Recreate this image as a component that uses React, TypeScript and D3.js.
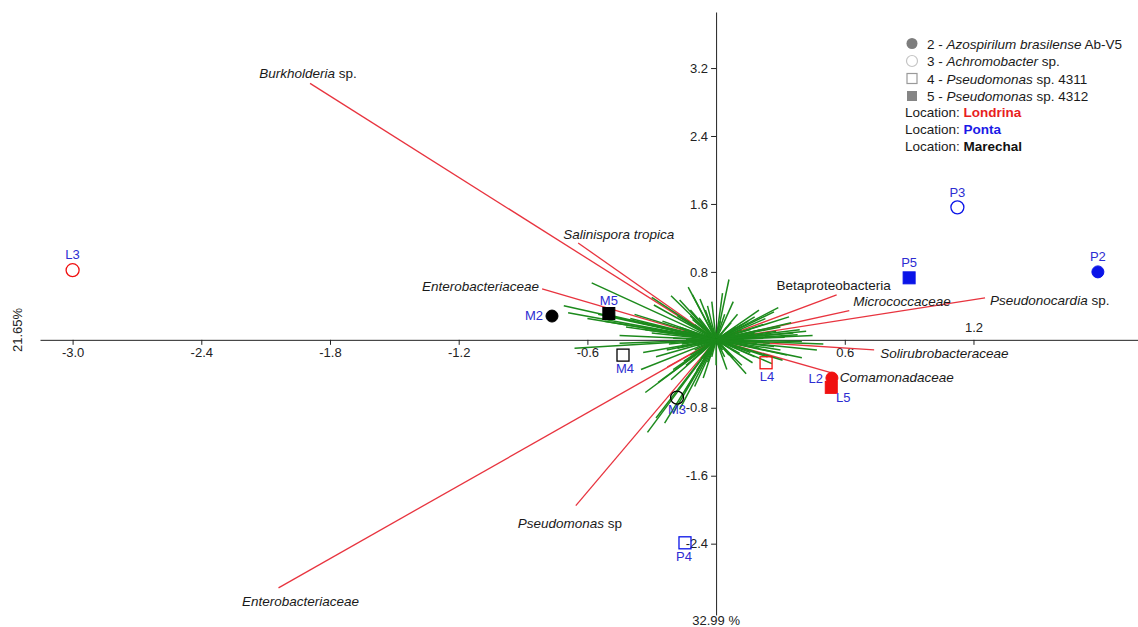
import React, { useEffect, useRef } from 'react';
import * as d3 from 'd3';

// sample scores (PC1, PC2)
const sampleNames = ['L2', 'L3', 'L4', 'L5', 'P2', 'P3', 'P4', 'P5', 'M2', 'M3', 'M4', 'M5'];
const sampleX = [0.54, -3.0, 0.233, 0.537, 1.78, 1.125, -0.145, 0.90, -0.765, -0.182, -0.434, -0.50];
const sampleY = [-0.45, 0.82, -0.27, -0.56, 0.80, 1.56, -2.39, 0.73, 0.28, -0.68, -0.18, 0.31];

// labelled loadings (red)
const loadingItalic = ['Burkholderia', 'Salinispora tropica', 'Enterobacteriaceae', '', 'Micrococcaceae',
  'Pseudonocardia', 'Solirubrobacteraceae', 'Comamonadaceae', 'Pseudomonas', 'Enterobacteriaceae', ''];
const loadingPlain = [' sp.', '', '', 'Betaproteobacteria', '', ' sp.', '', '', ' sp', '', ''];
const loadingX = [-1.893, -0.643, -0.811, 0.562, 0.621, 1.254, 0.737, 0.539, -0.654, -2.04, -0.228];
const loadingY = [3.02, 1.14, 0.60, 0.53, 0.345, 0.494, -0.118, -0.39, -1.953, -2.92, -0.32];

// unlabelled loadings (green)
const greenX = [-0.58, -0.71, -0.69, -0.55, -0.29, -0.30, -0.21, -0.17, -0.11, -0.075, -0.13, -0.04,
  -0.66, -0.34, -0.45, -0.33, -0.32, -0.28, -0.24, -0.27, -0.21, -0.09, -0.145, -0.10, -0.04,
  0.06, 0.03, 0.29, 0.27, 0.18, 0.34, 0.39, 0.38, 0.40, 0.40, 0.47, 0.30, 0.24, 0.17, 0.05, 0.12,
  0.33, 0.28, 0.22, 0.15, 0.10, -0.05, -0.02, 0.04, -0.12, -0.18, -0.25, -0.35, -0.42, -0.30, -0.45,
  -0.22, -0.28, -0.15, -0.20, -0.06, 0.00, 0.08, 0.20, 0.25, 0.18, 0.32, 0.12, -0.10, -0.08, 0.05,
  -0.15, 0.10, 0.35, 0.26, 0.14, -0.35, 0.45, 0.50, 0.08, 0.20, -0.38, 0.10, -0.10, 0.08, -0.09,
  0.06, -0.05, 0.03, -0.03, 0.13, -0.14, 0.12, -0.12, 0.16, -0.17, -0.20, 0.22, -0.18, 0.16, -0.20, -0.17,
  0.07, -0.07, 0.09, -0.11, 0.04, -0.04, 0.11, -0.13, 0.15, -0.16, 0.19, -0.19, 0.21, -0.23, 0.14,
  -0.12, 0.17, -0.08, 0.06, -0.06, 0.24, -0.26, 0.09, -0.10, 0.02, -0.02, 0.27, 0.30, -0.48, -0.40,
  -0.52, -0.60, 0.36, 0.42, 0.31, -0.24, -0.33, 0.23, 0.18, -0.14];
const greenY = [0.67, 0.40, 0.32, 0.30, 0.41, 0.50, 0.52, 0.47, 0.53, 0.48, 0.62, 0.40,
  -0.10, -0.15, -0.04, -0.62, -1.09, -0.92, -0.98, -0.50, -0.47, -0.36, -0.60, -0.55, -0.26,
  0.71, 0.55, 0.38, 0.33, 0.27, 0.27, 0.12, 0.06, -0.02, -0.21, -0.12, -0.12, -0.20, -0.27, -0.35, -0.30,
  -0.18, 0.10, 0.18, 0.22, 0.30, 0.35, 0.45, 0.30, 0.35, 0.28, 0.22, 0.20, 0.15, 0.08, 0.05,
  -0.05, -0.20, -0.25, -0.35, -0.45, -0.30, -0.22, -0.10, -0.04, 0.08, 0.03, 0.12, 0.18, -0.15, 0.15,
  0.10, -0.10, 0.20, -0.28, -0.40, -0.35, 0.05, -0.05, 0.45, 0.35, 0.30, 0.05, 0.05, -0.05, -0.07,
  0.10, 0.12, -0.12, -0.10, 0.00, 0.00, 0.18, -0.18, -0.15, 0.15, 0.02, 0.02, -0.10, 0.12, -0.86, -0.82,
  0.20, -0.22, 0.15, 0.24, -0.20, 0.25, -0.16, 0.20, 0.05, -0.05, -0.05, 0.08, 0.12, -0.12, -0.06,
  0.28, 0.03, 0.26, -0.18, -0.22, 0.06, 0.10, -0.14, -0.12, 0.22, -0.20, -0.08, 0.15, 0.28, 0.25,
  0.22, 0.25, 0.08, 0.10, -0.24, 0.14, 0.12, 0.25, -0.20, -0.30];

const xTicks = [-3.0, -2.4, -1.8, -1.2, -0.6, 0.6, 1.2];
const yTicks = [3.2, 2.4, 1.6, 0.8, -0.8, -1.6, -2.4];

const strainLegend = [
  ['2 - ', 'Azospirilum brasilense', ' Ab-V5'],
  ['3 - ', 'Achromobacter', ' sp.'],
  ['4 - ', 'Pseudomonas', ' sp. 4311'],
  ['5 - ', 'Pseudomonas', ' sp. 4312'],
];
const locationNames = ['Londrina', 'Ponta', 'Marechal'];

// layout bits
const W = 1138, H = 627;
const FONT = '"Liberation Sans", Arial, Helvetica, sans-serif';
const RED = '#e8343f';
const GREEN = '#1c8a1c';
const LABEL_BLUE = '#2d2dd2';
const locColor = { L: '#f01010', P: '#0a14e8', M: '#000000' };
const legendColor = ['#e81e1e', '#1a1ae6', '#111111'];

// where each point label goes: [dx, dy, anchor]
const sampleLabelPos = {
  L2: [-9, 5, 'end'], L3: [0, -11, 'middle'], L4: [1, 18, 'middle'], L5: [12, 15, 'middle'],
  P2: [0, -11, 'middle'], P3: [0, -10, 'middle'], P4: [-1, 18, 'middle'], P5: [0, -11, 'middle'],
  M2: [-9, 4, 'end'], M3: [0, 16, 'middle'], M4: [2, 18, 'middle'], M5: [0, -9, 'middle'],
};
// where each loading label goes: [dx, dy, anchor]
const loadingLabelPos = [
  [-2, -5, 'middle'], [-15, -4, 'start'], [-3, 2, 'end'], [-3, -5, 'middle'], [4, -5, 'start'],
  [5, 7, 'start'], [6, 8, 'start'], [8, 9, 'start'], [-6, 22, 'middle'], [22, 18, 'middle'], null,
];

function draw(svgEl) {
  const svg = d3.select(svgEl);
  svg.selectAll('*').remove();

  const x = d3.scaleLinear().domain([-3.152, 1.967]).range([40, 1138]);
  const y = d3.scaleLinear().domain([-3.24, 3.86]).range([615, 12]);

  const g = svg.append('g').attr('font-family', FONT);

  // axes
  const xAxis = g.append('g')
    .attr('transform', `translate(0, ${y(0)})`)
    .call(d3.axisBottom(x).tickValues(xTicks).tickSize(5).tickSizeOuter(0)
      .tickFormat(d => d.toFixed(1)));
  const yAxis = g.append('g')
    .attr('transform', `translate(${x(0)}, 0)`)
    .call(d3.axisLeft(y).tickValues(yTicks).tickSize(5).tickSizeOuter(0)
      .tickFormat(d => d.toFixed(1)));

  [xAxis, yAxis].forEach(a => {
    a.attr('font-family', FONT).attr('font-size', 13);
    a.selectAll('text').attr('fill', '#222');
    a.selectAll('line').attr('stroke', '#222');
    a.select('.domain').attr('stroke', '#222');
  });
  // the 1.2 label sits above the axis
  xAxis.selectAll('.tick').filter(d => d === 1.2).select('text').attr('y', -17);

  // red loadings under the green ones
  g.append('g').selectAll('line')
    .data(loadingX.map((v, i) => [v, loadingY[i]]))
    .join('line')
    .attr('x1', x(0)).attr('y1', y(0))
    .attr('x2', d => x(d[0])).attr('y2', d => y(d[1]))
    .attr('stroke', RED).attr('stroke-width', 1.3);

  g.append('g').selectAll('line')
    .data(greenX.map((v, i) => [v, greenY[i]]))
    .join('line')
    .attr('x1', x(0)).attr('y1', y(0))
    .attr('x2', d => x(d[0])).attr('y2', d => y(d[1]))
    .attr('stroke', GREEN).attr('stroke-width', 1.5);

  // loading labels
  const ll = g.append('g').attr('font-size', 13.5).attr('fill', '#1a1a1a');
  loadingX.forEach((v, i) => {
    const pos = loadingLabelPos[i];
    if (!pos) return;
    const t = ll.append('text')
      .attr('x', x(v) + pos[0]).attr('y', y(loadingY[i]) + pos[1])
      .attr('text-anchor', pos[2]);
    if (loadingItalic[i]) t.append('tspan').attr('font-style', 'italic').text(loadingItalic[i]);
    if (loadingPlain[i]) t.append('tspan').text(loadingPlain[i]);
  });

  // sample markers
  const pts = g.append('g');
  sampleNames.forEach((name, i) => {
    const c = locColor[name[0]];
    const kind = name[1];
    const cx = x(sampleX[i]), cy = y(sampleY[i]);
    const filled = kind === '2' || kind === '5';
    const shape = (kind === '2' || kind === '3')
      ? pts.append('circle').attr('cx', cx).attr('cy', cy).attr('r', kind === '3' ? 6.5 : 6)
      : pts.append('rect').attr('x', cx - 6).attr('y', cy - 6).attr('width', 12).attr('height', 12);
    shape.attr('fill', filled ? c : 'none')
      .attr('stroke', c)
      .attr('stroke-width', filled ? 1 : 1.3);
    const lp = sampleLabelPos[name];
    pts.append('text')
      .attr('x', cx + lp[0]).attr('y', cy + lp[1])
      .attr('text-anchor', lp[2])
      .attr('font-size', 13)
      .attr('fill', LABEL_BLUE)
      .text(name);
  });

  // axis titles
  g.append('text')
    .attr('transform', `translate(22, 330) rotate(-90)`)
    .attr('text-anchor', 'middle')
    .attr('font-size', 13).attr('fill', '#222')
    .text('21.65%');
  g.append('text')
    .attr('x', x(0)).attr('y', 625)
    .attr('text-anchor', 'middle')
    .attr('font-size', 13).attr('fill', '#222')
    .text('32.99 %');

  // legend
  const lg = g.append('g').attr('font-size', 13.5).attr('fill', '#1a1a1a');
  const strainY = d3.scalePoint().domain(d3.range(4)).range([43.5, 96]);
  const locY = d3.scalePoint().domain(d3.range(3)).range([112, 146]);
  strainLegend.forEach((parts, i) => {
    const yy = strainY(i);
    if (i === 0) lg.append('circle').attr('cx', 912).attr('cy', yy).attr('r', 5.5).attr('fill', '#7d7d7d');
    if (i === 1) lg.append('circle').attr('cx', 912).attr('cy', yy).attr('r', 5.5)
      .attr('fill', 'none').attr('stroke', '#c4c4c4').attr('stroke-width', 1.2);
    if (i === 2) lg.append('rect').attr('x', 907).attr('y', yy - 5).attr('width', 10).attr('height', 10)
      .attr('fill', 'none').attr('stroke', '#9a9a9a').attr('stroke-width', 1.2);
    if (i === 3) lg.append('rect').attr('x', 907).attr('y', yy - 5).attr('width', 10).attr('height', 10)
      .attr('fill', '#858585');
    const t = lg.append('text').attr('x', 927).attr('y', yy + 5);
    t.append('tspan').text(parts[0]);
    t.append('tspan').attr('font-style', 'italic').text(parts[1]);
    t.append('tspan').text(parts[2]);
  });
  locationNames.forEach((loc, i) => {
    const yy = locY(i);
    const t = lg.append('text').attr('x', 905).attr('y', yy + 5);
    t.append('tspan').text('Location: ');
    t.append('tspan').attr('font-weight', 'bold').attr('fill', legendColor[i]).text(loc);
  });
}

export default function App() {
  const ref = useRef(null);
  useEffect(() => {
    draw(ref.current);
  }, []);
  return (
    <svg ref={ref} width={W} height={H}
      style={{ position: 'absolute', left: 0, top: 0, background: '#fff' }} />
  );
}
